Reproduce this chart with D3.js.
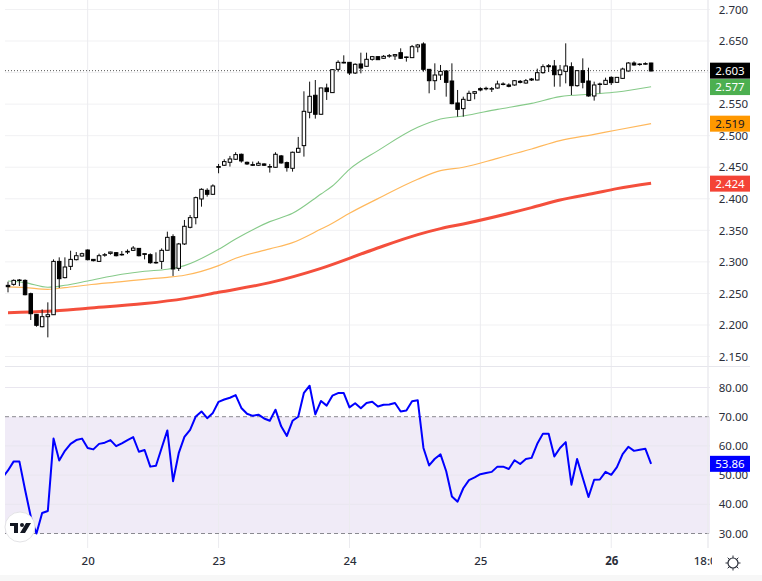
<!DOCTYPE html>
<html lang="en">
<head>
<meta charset="UTF-8">
<title>Chart</title>
<script src="https://cdn.jsdelivr.net/npm/d3@7/dist/d3.min.js"></script>
<style>
  html, body { margin: 0; padding: 0; background: #fff; }
  svg { display: block; }
  text { font-family: "Noto Sans", "Open Sans", sans-serif; font-size: 11.5px; fill: #2a2e39; }
</style>
</head>
<body>
<svg id="chart" width="762" height="581"></svg>
<script>
// candles (index 0 is the left most one)
const opens = [2.2628,2.2644,2.2713,2.2707,2.2496,2.2169,2.1973,2.2132,2.2163,2.3008,2.2750,2.2929,2.3035,2.3093,2.3188,2.3040,2.3008,2.3109,2.3135,2.3146,2.3119,2.3156,2.3183,2.3214,2.3130,2.3114,2.2992,2.3008,
  2.3184,2.3400,2.2898,2.3284,2.3548,2.3701,2.3997,2.4134,2.4071,
  2.4510,2.4531,2.4578,2.4626,2.4705,2.4578,2.4541,2.4531,2.4552,2.4510,2.4499,2.4679,2.4573,2.4483,2.4737,2.4842,2.5370,2.5640,2.5339,2.5756,2.5682,2.6051,2.6162,2.6162,2.5993,2.6136,2.6099,2.6210,2.6252,2.6226,2.6263,2.6263,2.6315,2.6247,
  2.6236,2.6405,2.6453,2.6051,2.5871,2.5961,2.6025,2.5866,2.5518,2.5428,2.5560,2.5671,2.5745,2.5745,2.5739,2.5755,2.5819,2.5803,2.5803,2.5861,2.5834,2.5898,2.5882,2.5998,2.6093,2.6104,2.5966,2.6019,2.6093,2.5792,2.6030,2.5866,2.5629,2.5813,2.5813,2.5924,2.5845,2.5908,2.6025,2.6151,2.6130,2.6141,2.6151];
const closes = [2.2607,2.2707,2.2707,2.2480,2.2179,2.1995,2.2132,2.2163,2.3008,2.2734,2.2919,2.3040,2.3098,2.3130,2.3035,2.3019,2.3098,2.3114,2.3156,2.3098,2.3114,2.3167,2.3219,2.3098,2.3119,2.2987,2.2987,2.3183,
  2.3389,2.2888,2.3284,2.3564,2.3701,2.4018,2.4150,2.4071,2.4203,
  2.4499,2.4589,2.4631,2.4700,2.4599,2.4552,2.4531,2.4562,2.4531,2.4504,2.4705,2.4568,2.4494,2.4737,2.4800,2.5386,2.5624,2.5339,2.5756,2.5698,2.6046,2.6162,2.6152,2.5993,2.6131,2.6072,2.6210,2.6252,2.6204,2.6257,2.6268,2.6284,2.6226,2.6241,
  2.6410,2.6437,2.6051,2.5871,2.5961,2.6019,2.5845,2.5507,2.5417,2.5576,2.5671,2.5697,2.5724,2.5750,2.5745,2.5819,2.5813,2.5782,2.5871,2.5845,2.5871,2.5882,2.5998,2.6093,2.6109,2.5966,2.6040,2.6104,2.5792,2.6030,2.5845,2.5629,2.5803,2.5819,2.5877,2.5840,2.5924,2.6056,2.6151,2.6120,2.6135,2.6135,2.6025];
const highs = [2.2686,2.2723,2.2728,2.2723,2.2512,2.2175,2.2248,2.2359,2.3040,2.3072,2.3072,2.3177,2.3156,2.3146,2.3198,2.3040,2.3130,2.3140,2.3161,2.3156,2.3172,2.3198,2.3251,2.3219,2.3130,2.3135,2.3151,2.3214,
  2.3479,2.3437,2.3300,2.3664,2.3743,2.4034,2.4166,2.4166,2.4229,
  2.4552,2.4626,2.4679,2.4737,2.4716,2.4589,2.4589,2.4594,2.4562,2.4552,2.4737,2.4694,2.4589,2.4747,2.4980,2.5703,2.5856,2.5882,2.5761,2.5824,2.6051,2.6194,2.6273,2.6167,2.6146,2.6315,2.6315,2.6263,2.6257,2.6278,2.6294,2.6294,2.6384,2.6252,
  2.6437,2.6453,2.6479,2.6056,2.6146,2.6120,2.6040,2.6146,2.5724,2.5618,2.5713,2.5708,2.5766,2.5776,2.5771,2.5871,2.5845,2.5829,2.5882,2.5882,2.5898,2.5914,2.6062,2.6130,2.6135,2.6199,2.6120,2.6463,2.6162,2.6030,2.6225,2.6077,2.5856,2.5840,2.5919,2.5940,2.5924,2.6077,2.6167,2.6178,2.6146,2.6162,2.6156];
const lows = [2.2517,2.2623,2.2618,2.2470,2.2079,2.1973,2.1963,2.1804,2.2158,2.2586,2.2739,2.2871,2.3024,2.3082,2.3024,2.3008,2.3003,2.3082,2.3114,2.3087,2.3098,2.3124,2.3172,2.3087,2.3040,2.2971,2.2971,2.2887,
  2.3184,2.2777,2.2856,2.3268,2.3532,2.3595,2.3875,2.4034,2.4060,
  2.4404,2.4520,2.4510,2.4615,2.4573,2.4536,2.4520,2.4520,2.4520,2.4415,2.4494,2.4557,2.4430,2.4430,2.4731,2.4668,2.5275,2.5270,2.5333,2.5566,2.5676,2.6014,2.6146,2.5962,2.5977,2.5988,2.6094,2.6189,2.6199,2.6215,2.6236,2.6199,2.6215,2.6173,
  2.6231,2.6321,2.6014,2.5671,2.5724,2.5882,2.5618,2.5497,2.5301,2.5301,2.5549,2.5576,2.5703,2.5718,2.5692,2.5745,2.5798,2.5766,2.5792,2.5829,2.5824,2.5866,2.5877,2.5982,2.6009,2.5776,2.5776,2.5829,2.5644,2.5776,2.5750,2.5618,2.5555,2.5671,2.5803,2.5803,2.5840,2.5898,2.6014,2.6109,2.6109,2.6125,2.6019];

// moving averages, sampled at the candle indexes below
const greenIdx = [0,3,7,10,14,20,24,28,31,37,40,46,50,55,57,60,65,72,76,80,86,92,97,103,107,113];
const greenMa = [2.2698,2.2671,2.2597,2.2629,2.2698,2.2803,2.2851,2.2883,2.2941,2.3199,2.3363,2.3638,2.3770,2.4076,2.4203,2.4467,2.4763,2.5132,2.5264,2.5312,2.5417,2.5512,2.5618,2.5660,2.5692,2.5775];
const orangeIdx = [0,3,7,10,14,20,24,28,31,37,40,46,50,55,57,60,65,72,76,80,86,92,97,103,107,113];
const orangeMa = [2.2603,2.2592,2.2566,2.2592,2.2634,2.2687,2.2724,2.2756,2.2788,2.2941,2.3057,2.3205,2.3305,2.3521,2.3612,2.3770,2.4002,2.4309,2.4446,2.4499,2.4641,2.4789,2.4921,2.5021,2.5090,2.5190];
const redIdx = [0,7,14,24,31,37,46,55,64,72,76,80,92,97,103,107,113];
const redMa = [2.2196,2.2217,2.2265,2.2339,2.2418,2.2518,2.2671,2.2898,2.3189,2.3432,2.3527,2.3601,2.3860,2.3981,2.4087,2.4161,2.4245];

// rsi, first value sits one candle left of the pane
const rsi = [49,51.6,54.7,54.7,45,35.8,30,37,37.7,62.5,55,58.3,60.7,62,62.5,59.3,58.8,60.7,61.1,62,59.9,60.9,62,63,58,58.6,52.9,53.2,59.3,65.3,47.9,57.5,63.1,65.5,70.1,71.8,69.5,71.3,75.1,75.9,76.5,77.4,73,71,70.3,70.7,
  69.4,68.6,72.4,66.7,63.4,68.6,70,78.2,80.6,70.8,75.4,73.8,77.2,78.1,78.1,73.2,74.6,72.9,74.7,75.1,73.5,74.1,74.2,74.7,71.8,72.1,75.3,75.6,59.3,53.3,55.6,57.1,51.3,42.7,40.9,45.5,48.3,49.2,50.3,50.7,51.1,52.9,52.9,52.1,55.1,53.8,
  55.5,55.9,60.7,64.2,64.2,56.4,59.3,61.3,46.7,55.5,49,42.5,48.4,48.5,51.1,50.1,52.7,57.2,59.7,58.3,58.7,59,53.86];

const priceTicks = [2.7,2.65,2.6,2.55,2.5,2.45,2.4,2.35,2.3,2.25,2.2,2.15];
const shownPriceTicks = [2.7,2.65,2.55,2.5,2.45,2.4,2.35,2.3,2.25,2.2,2.15];
const rsiGrid = [80,60,50,40];
const rsiTicks = [80,70,60,50,40,30];
const dayIdx = [14,37,60,83,106,123];
const dayLabels = ["20","23","24","25","26","18:00"];

const priceTags = [
  { v: 2.603, label: "2.603", bg: "#000000", fg: "#ffffff" },
  { v: 2.577, label: "2.577", bg: "#4caf50", fg: "#ffffff" },
  { v: 2.519, label: "2.519", bg: "#ff9800", fg: "#131722" },
  { v: 2.424, label: "2.424", bg: "#f44336", fg: "#ffffff" }
];

const left = 5, right = 710, axisX = 708, bottom = 548;

const x = d3.scaleLinear().domain([0, 123]).range([8, 708]);
const y = d3.scaleLinear().domain([2.65, 2.2]).range([41, 325]);
const yRsi = d3.scaleLinear().domain([80, 30]).range([387.5, 533.5]);

const svg = d3.select("#chart");

svg.append("rect").attr("x", 0).attr("y", 575).attr("width", 762).attr("height", 6).attr("fill", "#f7f7f7");

const defs = svg.append("defs");
defs.append("clipPath").attr("id", "pane").append("rect")
  .attr("x", left).attr("y", 0).attr("width", right - left).attr("height", bottom);
defs.append("clipPath").attr("id", "timeclip").append("rect")
  .attr("x", 0).attr("y", -10).attr("width", 712).attr("height", 30);

// rsi band
svg.append("rect")
  .attr("x", left).attr("width", right - left)
  .attr("y", yRsi(70)).attr("height", yRsi(30) - yRsi(70))
  .attr("fill", "#f0ebf7");

// grids
svg.append("g").selectAll("line").data(priceTicks).join("line")
  .attr("x1", left).attr("x2", right)
  .attr("y1", d => y(d)).attr("y2", d => y(d))
  .attr("stroke", "#f1f1f3");
svg.append("g").selectAll("line").data(rsiGrid).join("line")
  .attr("x1", left).attr("x2", right)
  .attr("y1", d => yRsi(d)).attr("y2", d => yRsi(d))
  .attr("stroke", "#e9e6ef");
svg.append("g").selectAll("line").data(dayIdx).join("line")
  .attr("x1", d => x(d)).attr("x2", d => x(d))
  .attr("y1", 0).attr("y2", bottom)
  .attr("stroke", "#ebebef");
svg.append("line").attr("x1", left).attr("x2", 750).attr("y1", 366.5).attr("y2", 366.5).attr("stroke", "#e6e6ec");

// rsi 70 / 30 limits
svg.append("g").selectAll("line").data([70, 30]).join("line")
  .attr("x1", left).attr("x2", right)
  .attr("y1", d => yRsi(d)).attr("y2", d => yRsi(d))
  .attr("stroke", "#8a8a90").attr("stroke-dasharray", "4 3");

const plot = svg.append("g").attr("clip-path", "url(#pane)");

// last price line
plot.append("line")
  .attr("x1", left).attr("x2", axisX)
  .attr("y1", y(2.603)).attr("y2", y(2.603))
  .attr("stroke", "#555").attr("stroke-dasharray", "1 2");

// moving averages
function maLine(idx, vals, color, width) {
  const line = d3.line().x(d => x(idx[d])).y(d => y(vals[d])).curve(d3.curveMonotoneX);
  plot.append("path")
    .attr("d", line(d3.range(idx.length)))
    .attr("fill", "none").attr("stroke", color).attr("stroke-width", width);
}
maLine(greenIdx, greenMa, "#86ca89", 1.1);
maLine(orangeIdx, orangeMa, "#ffb85c", 1.2);
maLine(redIdx, redMa, "#f44f3c", 3);

// candles
const candles = plot.append("g").selectAll("g").data(d3.range(opens.length)).join("g");
candles.append("line")
  .attr("x1", i => x(i)).attr("x2", i => x(i))
  .attr("y1", i => y(highs[i])).attr("y2", i => y(lows[i]))
  .attr("stroke", "#111").attr("stroke-width", 1);
candles.append("rect")
  .attr("x", i => x(i) - 1.75).attr("width", 3.5)
  .attr("y", i => y(Math.max(opens[i], closes[i])))
  .attr("height", i => Math.max(0.5, Math.abs(y(opens[i]) - y(closes[i]))))
  .attr("fill", i => closes[i] >= opens[i] ? "#fff" : "#000")
  .attr("stroke", "#000").attr("stroke-width", 1);

// rsi line
const rsiLine = d3.line().x((d, i) => x(i - 1)).y(d => yRsi(d));
plot.append("path").attr("d", rsiLine(rsi))
  .attr("fill", "none").attr("stroke", "#0000ff").attr("stroke-width", 2).attr("stroke-linejoin", "round");

// price axis
const priceAxis = d3.axisRight(y).tickValues(shownPriceTicks).tickSize(0).tickPadding(0).tickFormat(d3.format(".3f"));
const priceG = svg.append("g").attr("transform", "translate(733.5,0)").call(priceAxis);
priceG.select(".domain").remove();
priceG.selectAll("text").attr("text-anchor", "middle").attr("x", 0);
priceG.attr("font-size", null).attr("font-family", null);

const rsiAxis = d3.axisRight(yRsi).tickValues(rsiTicks).tickSize(0).tickPadding(0).tickFormat(d3.format(".2f"));
const rsiG = svg.append("g").attr("transform", "translate(733.5,0)").call(rsiAxis);
rsiG.select(".domain").remove();
rsiG.selectAll("text").attr("text-anchor", "middle").attr("x", 0);
rsiG.attr("font-size", null).attr("font-family", null);

// axis edge
svg.append("line").attr("x1", axisX).attr("x2", axisX).attr("y1", 0).attr("y2", bottom).attr("stroke", "#ebebef");

// price tags
const tags = svg.append("g").selectAll("g").data(priceTags).join("g");
tags.append("rect")
  .attr("x", 710).attr("width", 40).attr("height", 16)
  .attr("y", d => y(d.v) - 8)
  .attr("fill", d => d.bg);
tags.append("text")
  .attr("x", 730).attr("y", d => y(d.v)).attr("dy", "0.36em")
  .attr("text-anchor", "middle")
  .style("fill", d => d.fg)
  .text(d => d.label);

svg.append("rect").attr("x", 710).attr("width", 40).attr("height", 16).attr("y", yRsi(53.86) - 8).attr("fill", "#0000ff");
svg.append("text")
  .attr("x", 730).attr("y", yRsi(53.86)).attr("dy", "0.36em")
  .attr("text-anchor", "middle").style("fill", "#fff")
  .text("53.86");

// time axis, the last label is cut by the price scale
const timeAxis = d3.axisBottom(x).tickValues(dayIdx).tickSize(0).tickPadding(0).tickFormat((d, i) => dayLabels[i]);
const timeG = svg.append("g").attr("transform", "translate(0,557)").call(timeAxis);
timeG.select(".domain").remove();
timeG.attr("font-size", null).attr("font-family", null);
timeG.selectAll("text").attr("y", 0).attr("dy", "0.71em")
  .style("font-weight", (d, i) => dayLabels[i] === "26" ? 700 : 500);
timeG.attr("clip-path", "url(#timeclip)");

// logo badge
const logo = svg.append("g").attr("transform", "translate(20,527)");
logo.append("circle").attr("r", 15).attr("fill", "#fff").attr("stroke", "#e3e3e6").attr("stroke-width", 1);
logo.append("path").attr("d", "M-10,-4H-2V6H-6V-1H-10Z M6,-4H11L5,6H0Z").attr("fill", "#131722");
logo.append("circle").attr("cx", 2).attr("cy", -2).attr("r", 2).attr("fill", "#131722");

// sun icon
const sun = svg.append("g").attr("transform", "translate(733,563)").attr("stroke", "#2a2e39").attr("fill", "none");
sun.append("circle").attr("r", 5).attr("stroke-width", 1.2);
sun.selectAll("line").data(d3.range(8)).join("line")
  .attr("x1", d => 5 * Math.cos(d * Math.PI / 4)).attr("y1", d => 5 * Math.sin(d * Math.PI / 4))
  .attr("x2", d => 7.5 * Math.cos(d * Math.PI / 4)).attr("y2", d => 7.5 * Math.sin(d * Math.PI / 4))
  .attr("stroke-width", 1);
</script>
</body>
</html>
